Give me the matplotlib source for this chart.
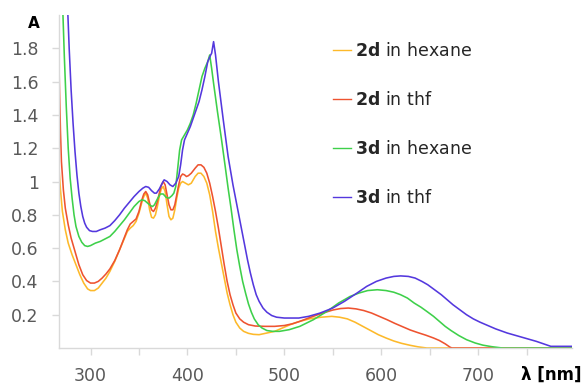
import matplotlib
matplotlib.use("Agg")
import matplotlib.pyplot as plt

plt.rcParams['font.family'] = ['DejaVu Sans']
plt.rcParams['mathtext.fontset'] = 'dejavusans'

# spectra (wavelength nm, absorbance)
wl_2d_hex = [263, 264, 265, 266, 267, 269, 271, 274, 277, 281, 285, 289, 293, 297, 300, 304,
             308, 312, 316, 320, 325, 330, 334, 338, 341, 344, 347, 350, 353, 355, 357, 359,
             361, 363, 365, 367, 369, 371, 373, 375, 377, 379, 381, 383, 385, 387, 389, 391,
             393, 395, 398, 401, 404, 408, 411, 414, 417, 420, 423, 426, 429, 432, 435, 438,
             441, 444, 447, 450, 454, 458, 463, 468, 474, 482, 490, 498, 506, 516, 526, 538,
             549, 557, 565, 573, 581, 589, 597, 605, 613, 621, 630, 638, 647, 797]
a_2d_hex = [2.2, 1.85, 1.55, 1.3, 1.12, 0.95, 0.82, 0.71, 0.63, 0.56, 0.5, 0.44, 0.39, 0.355, 0.345, 0.345,
            0.36, 0.39, 0.42, 0.46, 0.52, 0.59, 0.645, 0.70, 0.72, 0.735, 0.76, 0.81, 0.875, 0.91, 0.93, 0.90,
            0.83, 0.785, 0.78, 0.80, 0.85, 0.91, 0.955, 0.97, 0.94, 0.86, 0.79, 0.77, 0.78, 0.83, 0.90, 0.96,
            0.99, 1.0, 0.99, 0.98, 0.99, 1.03, 1.05, 1.05, 1.03, 0.99, 0.92, 0.82, 0.70, 0.60, 0.51, 0.42,
            0.33, 0.26, 0.20, 0.155, 0.12, 0.10, 0.088, 0.082, 0.08, 0.09, 0.10, 0.12, 0.14, 0.16, 0.175, 0.185,
            0.19, 0.185, 0.175, 0.155, 0.13, 0.105, 0.08, 0.06, 0.042, 0.028, 0.016, 0.007, 0.0, 0.0]

wl_2d_thf = [266, 267, 268, 269, 270, 272, 274, 277, 280, 284, 288, 292, 296, 300, 304, 308,
             312, 316, 320, 325, 330, 334, 338, 341, 344, 347, 350, 353, 355, 357, 359, 361,
             363, 365, 367, 369, 371, 373, 375, 377, 379, 381, 383, 385, 387, 389, 391, 393,
             395, 397, 399, 401, 404, 408, 411, 414, 417, 420, 423, 426, 429, 432, 435, 438,
             441, 444, 447, 450, 454, 458, 463, 470, 480, 490, 500, 508, 516, 525, 537, 550,
             558, 566, 574, 582, 590, 598, 606, 614, 622, 630, 638, 646, 654, 660, 666, 671,
             673, 797]
a_2d_thf = [2.2, 1.85, 1.55, 1.3, 1.12, 0.95, 0.84, 0.74, 0.66, 0.58, 0.5, 0.44, 0.405, 0.39, 0.39, 0.40,
            0.42, 0.445, 0.475, 0.525, 0.59, 0.65, 0.71, 0.745, 0.76, 0.775, 0.82, 0.89, 0.925, 0.94, 0.92, 0.87,
            0.83, 0.82, 0.84, 0.88, 0.93, 0.975, 1.0, 0.98, 0.92, 0.86, 0.83, 0.83, 0.86, 0.92, 0.98, 1.03,
            1.045, 1.04, 1.03, 1.035, 1.05, 1.08, 1.10, 1.10, 1.085, 1.05, 0.99, 0.91, 0.82, 0.72, 0.61, 0.50,
            0.40, 0.32, 0.26, 0.21, 0.175, 0.155, 0.14, 0.132, 0.13, 0.13, 0.135, 0.145, 0.16, 0.18, 0.205, 0.228,
            0.237, 0.24, 0.235, 0.225, 0.21, 0.19, 0.17, 0.148, 0.128, 0.108, 0.092, 0.077, 0.06, 0.045, 0.025, 0.005,
            0.0, 0.0]

wl_3d_hex = [271, 273, 275, 277, 279, 281, 283, 285, 288, 291, 294, 297, 300, 305, 310, 315,
             320, 325, 330, 335, 340, 345, 350, 353, 356, 359, 362, 364, 366, 369, 372, 375,
             378, 381, 384, 386, 388, 390, 392, 394, 397, 400, 403, 406, 409, 412, 415, 418,
             421, 423, 425, 427, 431, 435, 439, 442, 445, 448, 451, 454, 457, 460, 463, 466,
             469, 473, 477, 482, 488, 495, 505, 516, 530, 544, 556, 568, 577, 586, 596, 605,
             613, 620, 627, 634, 641, 647, 654, 660, 666, 672, 680, 688, 697, 705, 714, 725,
             797]
a_3d_hex = [2.1, 1.75, 1.45, 1.2, 1.02, 0.9, 0.8, 0.73, 0.67, 0.635, 0.615, 0.61, 0.615, 0.63, 0.64, 0.655,
            0.67, 0.70, 0.735, 0.77, 0.81, 0.85, 0.88, 0.89, 0.885, 0.87, 0.855, 0.85, 0.86, 0.895, 0.925, 0.925,
            0.905, 0.90, 0.915, 0.93, 0.97, 1.08, 1.19, 1.25, 1.28, 1.31, 1.35, 1.40, 1.47, 1.55, 1.63, 1.68,
            1.72, 1.76, 1.68, 1.59, 1.42, 1.26, 1.09, 0.96, 0.84, 0.71, 0.59, 0.49, 0.40, 0.33, 0.265, 0.215,
            0.175, 0.14, 0.12, 0.105, 0.10, 0.10, 0.11, 0.13, 0.17, 0.22, 0.27, 0.31, 0.33, 0.345, 0.35, 0.345,
            0.335, 0.32, 0.30, 0.27, 0.245, 0.22, 0.19, 0.16, 0.13, 0.105, 0.075, 0.05, 0.03, 0.017, 0.008, 0.0,
            0.0]

wl_3d_thf = [276, 278, 280, 282, 284, 286, 288, 290, 292, 294, 296, 299, 302, 306, 310, 315,
             320, 325, 330, 335, 340, 345, 350, 354, 357, 360, 363, 366, 368, 371, 374, 376,
             379, 382, 385, 388, 391, 393, 395, 397, 400, 403, 406, 409, 412, 415, 418, 421,
             424, 425, 427, 429, 432, 437, 442, 447, 450, 453, 456, 459, 462, 465, 468, 471,
             474, 478, 482, 487, 492, 500, 515, 525, 537, 550, 562, 575, 585, 595, 605, 613,
             620, 628, 635, 642, 648, 655, 662, 668, 674, 681, 688, 695, 702, 710, 718, 730,
             745, 760, 770, 775, 797]
a_3d_thf = [2.1, 1.8, 1.55, 1.35, 1.18, 1.04, 0.93, 0.85, 0.79, 0.75, 0.725, 0.705, 0.70, 0.70, 0.71, 0.72,
            0.735, 0.765, 0.80, 0.84, 0.875, 0.91, 0.94, 0.96, 0.97, 0.965, 0.945, 0.93, 0.93, 0.955, 0.99, 1.01,
            1.0, 0.98, 0.97, 0.99, 1.03, 1.10, 1.19, 1.25, 1.29, 1.33, 1.38, 1.43, 1.48, 1.55, 1.63, 1.72,
            1.76, 1.77, 1.84, 1.76, 1.60, 1.37, 1.15, 0.98, 0.89, 0.80, 0.71, 0.62, 0.53, 0.45, 0.38, 0.32,
            0.28, 0.24, 0.215, 0.195, 0.185, 0.18, 0.18, 0.19, 0.21, 0.24, 0.28, 0.33, 0.37, 0.40, 0.42, 0.43,
            0.433, 0.43, 0.42, 0.40, 0.38, 0.35, 0.32, 0.29, 0.26, 0.23, 0.20, 0.175, 0.155, 0.135, 0.115, 0.09,
            0.065, 0.04, 0.02, 0.01, 0.01]

series = [
    (wl_2d_hex, a_2d_hex, r"$\mathbf{2d}$ in hexane", "#FDB92A"),
    (wl_2d_thf, a_2d_thf, r"$\mathbf{2d}$ in thf", "#EE5330"),
    (wl_3d_hex, a_3d_hex, r"$\mathbf{3d}$ in hexane", "#3ED04A"),
    (wl_3d_thf, a_3d_thf, r"$\mathbf{3d}$ in thf", "#5438DE"),
]

x_ticks = [300, 350, 400, 450, 500, 550, 600, 650, 700, 750]
x_tick_labels = ["300", "", "400", "", "500", "", "600", "", "700", ""]
y_ticks = [0.2, 0.4, 0.6, 0.8, 1.0, 1.2, 1.4, 1.6, 1.8]
y_tick_labels = ["0.2", "0.4", "0.6", "0.8", "1", "1.2", "1.4", "1.6", "1.8"]

fig = plt.figure(figsize=(5.85, 3.85), dpi=100)
ax = fig.add_axes([0.1017, 0.0961, 0.8763, 0.8649])

for wl, a, lab, col in series:
    ax.plot(wl, a, color=col, lw=1.15, label=lab, solid_joinstyle="round")

ax.set_xlim(268, 797)
ax.set_ylim(0, 2.0)
ax.set_xticks(x_ticks)
ax.set_xticklabels(x_tick_labels)
ax.set_yticks(y_ticks)
ax.set_yticklabels(y_tick_labels)

for s in ["top", "right"]:
    ax.spines[s].set_visible(False)
for s in ["left", "bottom"]:
    ax.spines[s].set_color("#d9d9d9")
    ax.spines[s].set_linewidth(1.0)
ax.tick_params(axis="both", colors="#d9d9d9", labelcolor="#595959", labelsize=12.5, length=5, width=1.0)
ax.tick_params(axis="y", pad=10)
ax.tick_params(axis="x", pad=9)

fig.text(34 / 585, 1 - 23 / 385, "A", fontsize=11, fontweight="bold", ha="center", va="center")
fig.text(551 / 585, 1 - 375 / 385, "λ [nm]", fontsize=12, fontweight="bold", ha="center", va="center")

leg = ax.legend(loc="upper left", bbox_to_anchor=(333 / 585, 1 - 42 / 385), bbox_transform=fig.transFigure,
                frameon=False, fontsize=12.5, handlelength=1.04, handletextpad=0.23, labelspacing=1.79,
                borderpad=0, borderaxespad=0)
for h in leg.get_lines():
    h.set_linewidth(1.0)
for t in leg.get_texts():
    t.set_color("#262626")

fig.savefig("out.png", dpi=100)
